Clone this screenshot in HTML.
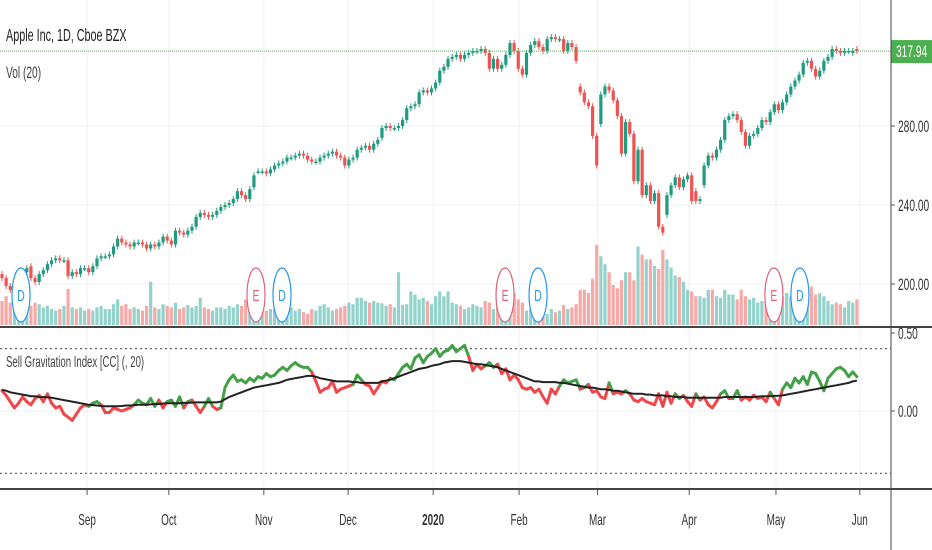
<!DOCTYPE html>
<html><head><meta charset="utf-8">
<style>
html,body{margin:0;padding:0;background:#fff;}
svg{display:block;font-family:"Liberation Sans",sans-serif;}
</style></head>
<body>
<svg id="chart" width="932" height="550" viewBox="0 0 932 550">
<rect x="0" y="0" width="932" height="550" fill="#fff"/>
<g id="grid"></g>
<g id="vol"></g>
<g id="candles"></g>
<g id="markers"></g>
<g id="ind"></g>
<g id="axes"></g>
</svg>
<script>
const monthLabels=["Sep","Oct","Nov","Dec","2020","Feb","Mar","Apr","May","Jun"];
const monthIdx=[20.6,40.4,63.4,83.8,104.4,125.2,144.2,166.4,187.4,207.7];
const priceTicks=[280,240,200];
const sgiTicks=[0.5,0];
const lastPrice=317.94;
const closes=[203,199,197,201,204,206,208,203,201,205,
207,210,212,213,212,212,204,206,205,208,
208,206,209,213,214,214,215,219,223,221,
220,219,221,221,220,218,220,219,221,224,
222,220,227,226,225,227,229,234,236,235,
234,235,237,239,240,241,243,247,245,243,
248,255,257,257,256,258,260,261,262,264,
264,265,266,265,263,262,262,264,265,266,
267,265,264,260,263,264,268,269,270,268,
271,273,279,280,279,279,280,283,289,290,
291,297,298,297,299,302,308,310,314,315,
316,314,316,317,318,318,319,317,309,314,
309,311,316,322,318,309,306,317,321,323,
320,318,324,325,324,324,318,322,320,313,
297,292,290,275,260,296,300,298,293,285,
266,282,276,252,268,245,250,242,246,229,
226,245,250,254,249,253,255,242,242,243,
260,265,264,268,273,283,285,286,283,277,
270,275,276,279,283,282,287,291,288,292,
296,300,303,306,312,313,309,305,308,313,
315,319,318,317,318,318,318,318];
const opens=[205,203,199,197,201,204,206,209,203,201,
205,207,210,212,213,212,212,204,206,205,
208,208,206,209,213,214,214,215,219,223,
221,220,219,221,221,220,218,220,219,221,
224,222,220,227,226,225,227,229,234,236,
235,234,235,237,239,240,241,243,247,245,
243,249,257,257,257,256,258,260,261,262,
264,264,265,266,265,263,262,262,264,265,
266,267,265,264,260,263,264,268,269,270,
268,271,274,279,280,279,279,280,283,289,
290,291,297,298,297,299,302,308,310,314,
315,316,314,316,317,318,318,319,317,309,
314,309,311,316,322,318,309,306,317,321,
323,320,318,324,325,324,324,318,322,320,
300,297,292,290,275,281,296,300,298,293,
285,266,282,276,252,268,245,250,242,246,
229,235,245,250,254,249,253,255,247,242,
250,260,265,264,268,273,283,285,286,283,
277,270,275,276,279,283,282,287,291,288,
292,296,300,303,306,312,313,309,305,308,
313,315,319,318,317,318,317,319];
const volumes=[30,36,28,25,24,22,20,24,28,26,
22,24,20,18,20,24,45,22,20,22,
18,20,18,22,24,20,20,26,32,24,
26,20,22,20,18,24,54,22,20,26,
24,22,28,20,22,25,22,24,34,22,
20,18,22,22,20,24,22,26,24,32,
30,26,24,22,18,20,20,24,22,20,
22,18,20,16,14,20,18,24,26,22,
18,20,22,24,28,26,34,34,30,28,
30,28,27,24,26,22,66,25,26,42,
38,32,34,30,26,36,42,36,42,28,
26,24,20,22,26,24,22,30,28,20,
24,28,26,22,40,32,28,18,20,16,
22,16,14,20,16,18,25,20,22,26,
44,44,40,58,100,86,76,66,50,46,
56,66,66,56,98,88,82,82,74,70,
94,82,72,62,60,54,44,42,36,36,
34,44,44,36,34,44,38,38,32,44,
36,32,34,28,30,28,28,34,38,36,
40,36,34,38,40,40,48,38,40,36,
30,26,28,26,22,30,28,32];
const sgi=[.13,.10,.06,.02,.05,.09,.06,.04,.08,.10,
.06,.11,.05,.02,.03,-.02,-.04,-.06,-.02,.02,
.04,.03,.05,.06,.04,-.01,-.01,.02,.01,.00,
.01,.02,.04,.07,.05,.04,.08,.03,.07,.02,
.06,.07,.03,.09,.02,.06,.07,.03,-.01,.03,
.08,.03,.01,.02,.15,.20,.23,.19,.20,.18,
.21,.19,.22,.21,.24,.22,.23,.26,.28,.26,
.29,.31,.29,.28,.28,.25,.19,.12,.14,.15,
.19,.12,.14,.15,.16,.17,.23,.20,.17,.16,
.11,.15,.19,.18,.21,.20,.24,.28,.30,.27,
.34,.36,.31,.35,.37,.40,.35,.38,.39,.42,
.38,.40,.42,.35,.26,.30,.27,.29,.31,.28,
.30,.24,.27,.20,.23,.20,.15,.14,.15,.12,
.14,.09,.05,.14,.11,.16,.20,.18,.19,.20,
.14,.15,.17,.12,.13,.09,.08,.18,.11,.12,
.11,.13,.11,.07,.06,.08,.06,.05,.04,.11,
.03,.12,.05,.11,.08,.10,.06,.03,.11,.07,
.09,.04,.02,.06,.11,.13,.08,.08,.13,.07,
.09,.07,.10,.08,.09,.06,.12,.08,.04,.14,
.18,.15,.21,.18,.22,.17,.25,.24,.19,.13,
.21,.24,.27,.28,.26,.22,.25,.22];
const sgiMa=[.135,.13,.12,.115,.11,.105,.10,.095,.095,.09,
.09,.088,.085,.08,.075,.07,.065,.06,.055,.05,
.045,.04,.038,.035,.032,.03,.03,.03,.03,.032,
.035,.035,.038,.04,.04,.04,.042,.045,.045,.048,
.05,.05,.05,.05,.052,.052,.054,.055,.055,.055,
.055,.055,.055,.06,.075,.09,.10,.11,.12,.13,
.14,.15,.155,.16,.165,.17,.175,.18,.19,.20,
.205,.21,.215,.22,.225,.225,.22,.21,.205,.2,
.195,.19,.19,.19,.19,.185,.185,.18,.18,.18,
.18,.18,.19,.195,.2,.21,.22,.23,.24,.25,
.26,.27,.275,.28,.29,.295,.30,.31,.315,.32,
.32,.32,.315,.31,.305,.30,.30,.295,.29,.285,
.28,.27,.26,.25,.24,.23,.22,.21,.2,.19,
.19,.185,.185,.185,.185,.18,.18,.175,.17,.165,
.16,.155,.15,.15,.145,.14,.14,.135,.13,.13,
.125,.12,.115,.11,.11,.11,.105,.105,.10,.10,
.10,.095,.095,.09,.09,.09,.085,.085,.085,.085,
.085,.085,.085,.085,.085,.09,.09,.09,.09,.09,
.09,.09,.09,.092,.095,.095,.095,.097,.098,.10,
.105,.11,.115,.12,.125,.13,.135,.14,.145,.15,
.155,.16,.165,.17,.175,.18,.19,.195];
const eventTypes=["D","E","D","E","D","E","D"];
const eventIdx=[4.6,61.5,67.8,121.8,129.8,186.9,193.2];

const NS="http://www.w3.org/2000/svg";
function mk(tag,attrs,parent){const e=document.createElementNS(NS,tag);for(const k in attrs)e.setAttribute(k,attrs[k]);parent.appendChild(e);return e;}
const xS=i=>2+i*4.13;
const yP=p=>126-(p-280)*1.975;
const yV=v=>325-v*0.8;
const yI=v=>411-v*156;
const grid=document.getElementById('grid');
const axes=document.getElementById('axes');
const sc=(x,s)=>`translate(${x},0) scale(${s},1) translate(${-x},0)`;

monthIdx.forEach((m,k)=>{
  const x=xS(m);
  const l=mk('line',{x1:x,y1:0,x2:x,y2:489,stroke:'#eef0f3','stroke-width':1},grid);
  
  
  const t=mk('line',{x1:x,y1:489,x2:x,y2:495,stroke:'#555','stroke-width':1},axes);
  
  
  const tx=mk('text',{x:x,y:525,'text-anchor':'middle','font-size':16,fill:'#333','font-weight':monthLabels[k]==='2020'?'bold':'normal',transform:sc(x,0.62)},axes);
  tx.textContent=monthLabels[k];
  
  
});
priceTicks.forEach(p=>{
  const y=yP(p);
  const l=mk('line',{x1:0,y1:y,x2:891,y2:y,stroke:'#eef0f3','stroke-width':1},grid);
  
  
  const t=mk('line',{x1:891,y1:y,x2:895,y2:y,stroke:'#555'},axes);
  
  
  const tx=mk('text',{x:898,y:y+6,'font-size':17,fill:'#333',transform:sc(898,0.6)},axes);
  tx.textContent=p.toFixed(2);
  
  
});
volumes.forEach((v,i)=>{
  const up=closes[i]>=opens[i];
  const r=mk('rect',{x:xS(i)-1.6,y:yV(v),width:3.2,height:325-yV(v),fill:up?'#93d3cc':'#f8a8a6'},document.getElementById('vol'));
  
  
});
const cg=document.getElementById('candles');
closes.forEach((c,i)=>{
  const o=opens[i],up=c>=o,col=up?'#1f9b80':'#ef5350',x=xS(i);
  const hi=Math.max(o,c),lo=Math.min(o,c);
  const w=mk('line',{x1:x,y1:yP(hi)-3,x2:x,y2:yP(lo)+3,stroke:col,'stroke-width':1},cg);
  
  
  const b=mk('rect',{x:x-1.6,y:yP(hi),width:3.2,height:Math.max(1.5,yP(lo)-yP(hi)),fill:col},cg);
  
  
});
const lp=mk('line',{x1:0,y1:yP(lastPrice),x2:891,y2:yP(lastPrice),stroke:'#4caf50','stroke-width':1,'stroke-dasharray':'1,1'},cg);


const lb=mk('rect',{x:891,y:yP(lastPrice)-11,width:41,height:23,fill:'#4caf50'},axes);


const lt=mk('text',{x:896,y:yP(lastPrice)+6,'font-size':17,fill:'#fff',transform:sc(896,0.6)},axes);
lt.textContent=lastPrice.toFixed(2);


const mg=document.getElementById('markers');
eventIdx.forEach((e,k)=>{
  const x=xS(e),isE=eventTypes[k]==='E',col=isE?'#e0607a':'#2196f3';
  const el=mk('ellipse',{cx:x,cy:295,rx:9,ry:27,fill:'#fff',stroke:col,'stroke-width':1.2},mg);
  
  
  const t=mk('text',{x:x,y:301,'text-anchor':'middle','font-size':16,fill:col,transform:sc(x,0.65)},mg);
  t.textContent=eventTypes[k];
  
  
});
const ig=document.getElementById('ind');
const zl=mk('line',{x1:0,y1:yI(0),x2:891,y2:yI(0),stroke:'#eef0f3'},ig);


[0.4,-0.4].forEach(v=>{
  const d=mk('line',{x1:0,y1:yI(v),x2:891,y2:yI(v),stroke:'#666','stroke-width':1.2,'stroke-dasharray':'2,3'},ig);
  
  
});
for(let i=0;i<sgi.length-1;i++){
  const col=(sgi[i]+sgi[i+1])/2>=(sgiMa[i]+sgiMa[i+1])/2?'#43a047':'#f0474a';
  const s=mk('line',{x1:xS(i),y1:yI(sgi[i]),x2:xS(i+1),y2:yI(sgi[i+1]),stroke:col,'stroke-width':3,'stroke-linecap':'round'},ig);
  
  
}
const maPath=mk('path',{d:sgiMa.map((v,i)=>(i?'L':'M')+xS(i).toFixed(1)+','+yI(v).toFixed(1)).join(''),fill:'none',stroke:'#222','stroke-width':2},ig);


sgiTicks.forEach(v=>{
  const y=yI(v);
  const t=mk('line',{x1:891,y1:y,x2:895,y2:y,stroke:'#555'},axes);
  
  
  const tx=mk('text',{x:898,y:y+6,'font-size':17,fill:'#333',transform:sc(898,0.6)},axes);
  tx.textContent=v.toFixed(2);
  
  
});
const cov=mk('rect',{x:891,y:318,width:41,height:10,fill:'#fff'},axes);


[[0,327,932,327],[0,489,932,489],[891,0,891,550]].forEach(a=>{
  const l=mk('line',{x1:a[0],y1:a[1],x2:a[2],y2:a[3],stroke:'#444','stroke-width':a[0]===891?1:2},axes);
  
  
});
[["Apple Inc, 1D, Cboe BZX",41,18,'#222','chart-title'],["Vol (20)",78,17,'#444','volume-legend'],["Sell Gravitation Index [CC] (, 20)",367,16,'#444','indicator-legend']].forEach(a=>{
  const t=mk('text',{x:6,y:a[1],'font-size':a[2],fill:a[3],transform:sc(6,0.6)},axes);
  t.textContent=a[0];
  
  
});
</script>
</body></html>
